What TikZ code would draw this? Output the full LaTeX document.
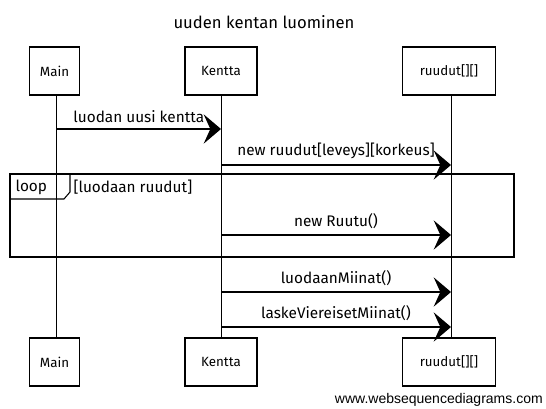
\documentclass[tikz,border=0pt]{standalone}
\usepackage{fontspec}
\setmainfont{Fira Sans}
\newfontfamily\footfont{Liberation Sans}
\usetikzlibrary{arrows.meta}
\begin{document}
\begin{tikzpicture}[x=0.75pt,y=-0.75pt,
  part/.style={draw,line width=0.8pt,minimum width=#1,minimum height=36pt,inner sep=0pt,font=\fontsize{10}{12}\selectfont},
  life/.style={line width=0.7pt},
  msg/.style={line width=0.9pt,-{Stealth[length=13pt,width=22pt,inset=5pt]}},
  lbl/.style={font=\fontsize{11.5}{13}\selectfont,inner sep=1pt},
  frame/.style={line width=0.8pt}]
\useasboundingbox (0,0) rectangle (546,408);
\node[font=\fontsize{12.5}{14}\selectfont] (title) at (264,22) {uuden kentan luominen};
% participants
\node[part=38pt] (mT) at (54.5,71) {Main};
\node[part=54pt] (kT) at (221,71) {Kentta};
\node[part=70pt] (rT) at (449,71) {ruudut[][]};
\node[part=38pt] (mB) at (54.5,362) {Main};
\node[part=54pt] (kB) at (221,362) {Kentta};
\node[part=70pt] (rB) at (449,362) {ruudut[][]};
% lifelines
\draw[life] (mT.south) ++(2,0) coordinate (mTs) -- (mTs |- mB.north) coordinate (mBn);
\draw[life] (kT.south) coordinate (kTs) -- (kTs |- kB.north) coordinate (kBn);
\draw[life] (rT.south) ++(2,0) coordinate (rTs) -- (rTs |- rB.north) coordinate (rBn);
% loop frame
\coordinate (fTL) at (10,174);
\coordinate (fBR) at (514,257);
\draw[frame] (fTL) rectangle (fBR);
\draw[frame] (fTL) -- (70,174) -- (70,192) -- (64,199) -- (10,199) -- cycle;
\node[lbl,anchor=west] (looplbl) at (14,187) {loop};
\node[lbl,anchor=west] (guard) at (72,187) {[luodaan ruudut]};
% messages
\coordinate (a1) at (mTs |- 0,129); \coordinate (b1) at (kTs |- 0,129);
\draw[msg] (a1) -- (b1) node[lbl,midway,above=3pt] (l1) {luodan uusi kentta};
\coordinate (a2) at (kTs |- 0,165); \coordinate (b2) at (rTs |- 0,165);
\draw[msg] (a2) -- (b2) node[lbl,midway,above=3pt] (l2) {new ruudut[leveys][korkeus]};
\coordinate (a3) at (kTs |- 0,235); \coordinate (b3) at (rTs |- 0,235);
\draw[msg] (a3) -- (b3) node[lbl,midway,above=3pt] (l3) {new Ruutu()};
\coordinate (a4) at (kTs |- 0,292); \coordinate (b4) at (rTs |- 0,292);
\draw[msg] (a4) -- (b4) node[lbl,midway,above=3pt] (l4) {luodaanMiinat()};
\coordinate (a5) at (kTs |- 0,327); \coordinate (b5) at (rTs |- 0,327);
\draw[msg] (a5) -- (b5) node[lbl,midway,above=3pt] (l5) {laskeViereisetMiinat()};
% footer
\node[font=\footfont\fontsize{10.5}{12}\selectfont,anchor=east,inner sep=0pt] (foot) at (543,400) {www.websequencediagrams.com};
\end{tikzpicture}
\end{document}
